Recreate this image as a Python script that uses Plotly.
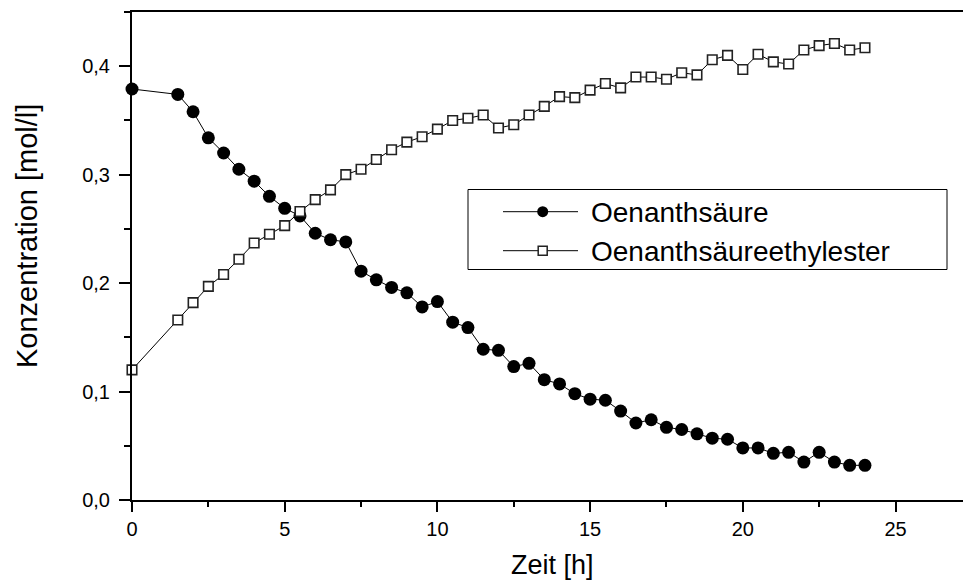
import plotly.graph_objects as go

# ---- data ----
time_h = [0, 1.5, 2, 2.5, 3, 3.5, 4, 4.5, 5, 5.5, 6, 6.5, 7, 7.5, 8, 8.5, 9, 9.5,
          10, 10.5, 11, 11.5, 12, 12.5, 13, 13.5, 14, 14.5, 15, 15.5, 16, 16.5,
          17, 17.5, 18, 18.5, 19, 19.5, 20, 20.5, 21, 21.5, 22, 22.5, 23, 23.5, 24]

oenanthsaeure = [0.379, 0.374, 0.358, 0.334, 0.320, 0.305, 0.294, 0.280, 0.269, 0.262,
                 0.246, 0.240, 0.238, 0.211, 0.203, 0.196, 0.191, 0.178, 0.183, 0.164,
                 0.159, 0.139, 0.138, 0.123, 0.126, 0.111, 0.107, 0.098, 0.093, 0.092,
                 0.082, 0.071, 0.074, 0.067, 0.065, 0.061, 0.057, 0.056, 0.048, 0.048,
                 0.043, 0.044, 0.035, 0.044, 0.035, 0.032, 0.032]

ethylester = [0.120, 0.166, 0.182, 0.197, 0.208, 0.222, 0.237, 0.245, 0.253, 0.266,
              0.277, 0.286, 0.300, 0.305, 0.314, 0.323, 0.330, 0.335, 0.342, 0.350,
              0.352, 0.355, 0.343, 0.346, 0.355, 0.363, 0.372, 0.371, 0.378, 0.384,
              0.380, 0.390, 0.390, 0.388, 0.394, 0.392, 0.406, 0.410, 0.397, 0.411,
              0.404, 0.402, 0.415, 0.419, 0.421, 0.415, 0.417]

series_names = ["Oenanthsäure", "Oenanthsäureethylester"]
x_title = "Zeit [h]"
y_title = "Konzentration [mol/l]"

# ---- layout geometry ----
W, H = 963, 583
ML, MR, MT, MB = 132, 0, 12, 83
PW, PH = W - ML - MR, H - MT - MB
FONT = "Liberation Sans, Arial, sans-serif"


def px(xp):
    return (xp - ML) / PW


def py(yp):
    return (H - MB - yp) / PH


fig = go.Figure()
fig.add_trace(go.Scatter(
    x=time_h, y=oenanthsaeure, name=series_names[0], mode="lines+markers",
    line=dict(color="black", width=1),
    marker=dict(symbol="circle", size=13, color="black", line=dict(width=0)),
    cliponaxis=False, showlegend=False))
fig.add_trace(go.Scatter(
    x=time_h, y=ethylester, name=series_names[1], mode="lines+markers",
    line=dict(color="black", width=1),
    marker=dict(symbol="square", size=9.5, color="white",
                line=dict(color="#222222", width=1.6)),
    cliponaxis=False, showlegend=False))

# ---- custom legend (box, line samples, symbols, labels) ----
shapes = []
annotations = []
shapes.append(dict(type="rect", xref="paper", yref="paper",
                   x0=px(468), x1=px(947), y0=py(269.5), y1=py(189.5),
                   line=dict(color="black", width=1), fillcolor="white", layer="above"))
rows = [211.7, 250.7]
for i, yrow in enumerate(rows):
    shapes.append(dict(type="line", xref="paper", yref="paper",
                       x0=px(503), x1=px(578), y0=py(yrow), y1=py(yrow),
                       line=dict(color="black", width=1), layer="above"))
    cx = 542.7
    if i == 0:
        r = 5.5
        shapes.append(dict(type="circle", xref="paper", yref="paper",
                           x0=px(cx - r), x1=px(cx + r), y0=py(yrow + r), y1=py(yrow - r),
                           line=dict(color="black", width=0), fillcolor="black", layer="above"))
    else:
        r = 4.5
        shapes.append(dict(type="rect", xref="paper", yref="paper",
                           x0=px(cx - r), x1=px(cx + r), y0=py(yrow + r), y1=py(yrow - r),
                           line=dict(color="#222222", width=1.5), fillcolor="white", layer="above"))
    annotations.append(dict(xref="paper", yref="paper", x=px(589), y=py(yrow + 1),
                            xanchor="left", yanchor="middle", showarrow=False,
                            text=series_names[i], font=dict(family=FONT, size=28, color="black")))

# axis titles
annotations.append(dict(xref="paper", yref="paper", x=px(552), y=py(565),
                        xanchor="center", yanchor="middle", showarrow=False,
                        text=x_title, font=dict(family=FONT, size=27, color="black")))
annotations.append(dict(xref="paper", yref="paper", x=px(27), y=py(236),
                        xanchor="center", yanchor="middle", showarrow=False, textangle=-90,
                        text=y_title, font=dict(family=FONT, size=29, color="black")))

fig.update_layout(
    width=W, height=H,
    margin=dict(l=ML, r=MR, t=MT, b=MB, autoexpand=False),
    paper_bgcolor="white", plot_bgcolor="white",
    separators=",.",
    font=dict(family=FONT, color="black"),
    shapes=shapes, annotations=annotations,
    showlegend=False,
)
fig.update_xaxes(
    range=[0, PW / 30.54], tick0=0, dtick=5, ticks="outside", ticklen=10, tickwidth=2,
    tickcolor="black", showline=True, linecolor="black", linewidth=2, mirror=True,
    showgrid=False, zeroline=False, tickfont=dict(family=FONT, size=20, color="black"),
    minor=dict(dtick=2.5, ticks="outside", ticklen=5, tickwidth=2, tickcolor="black", showgrid=False),
)
fig.update_yaxes(
    range=[0, 0.45], tick0=0, dtick=0.1, tickformat=".1f", ticks="outside", ticklen=11,
    tickwidth=2, tickcolor="black", showline=True, linecolor="black", linewidth=2,
    mirror=False, showgrid=False, zeroline=False, ticklabelstandoff=5,
    tickfont=dict(family=FONT, size=20, color="black"),
    minor=dict(dtick=0.05, ticks="outside", ticklen=6, tickwidth=2, tickcolor="black", showgrid=False),
)

fig.write_html(
    "out.html",
    config={"displayModeBar": False},
    post_script="document.body.style.margin='0';document.body.style.overflow='hidden';",
)
